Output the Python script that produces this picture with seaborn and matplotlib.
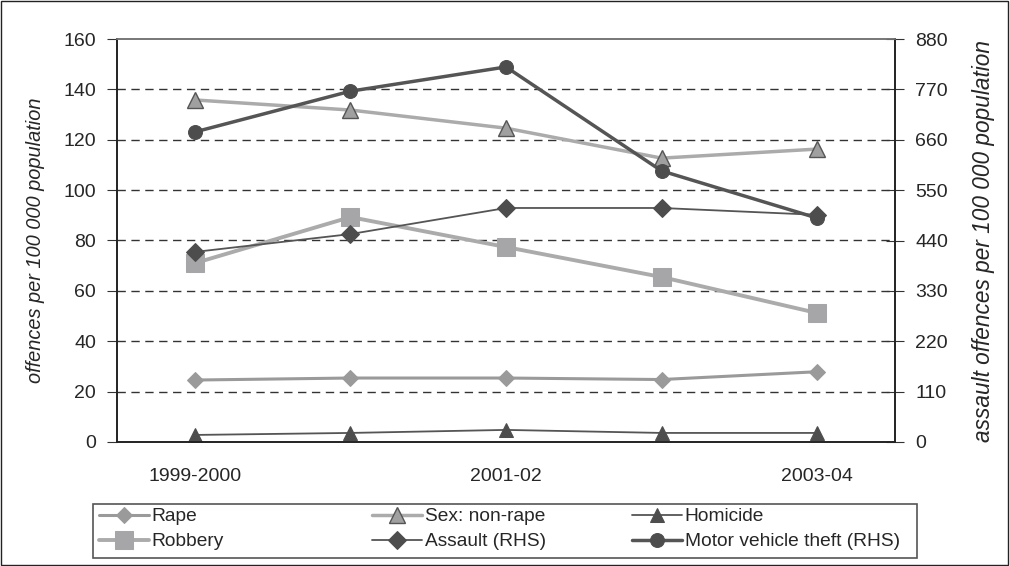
import matplotlib
matplotlib.use("Agg")
import matplotlib.pyplot as plt
import pandas as pd
import seaborn as sns
from matplotlib.patches import Rectangle

years = ["1999-2000", "2000-01", "2001-02", "2002-03", "2003-04"]
tick_labels = ["1999-2000", "", "2001-02", "", "2003-04"]

rape = [24.6, 25.4, 25.4, 24.8, 27.9]
sex_non_rape = [135.8, 131.8, 124.6, 112.7, 116.3]
homicide = [2.8, 3.6, 4.8, 3.6, 3.6]
robbery = [71.0, 89.3, 77.4, 65.5, 51.2]
assault_rhs = [415, 454, 511, 511, 496]
mvt_rhs = [677, 766, 819, 592, 489]

sns.set_style("white")
plt.rcParams["font.family"] = ["Liberation Sans", "DejaVu Sans"]

df = pd.DataFrame({"idx": range(len(years)), "year": years})

fig = plt.figure(figsize=(10.1, 5.66), dpi=100)
ax = fig.add_axes([117 / 1010, 124 / 566, 778 / 1010, 403 / 566])
ax2 = ax.twinx()

# left-hand series
styles_left = [
    ("Rape", rape, dict(color="#9a9a9a", lw=2.2, marker="D", ms=8, mfc="#9a9a9a", mec="#9a9a9a")),
    ("Sex: non-rape", sex_non_rape, dict(color="#ababab", lw=2.5, marker="^", ms=11, mfc="#a0a0a0", mec="#555555", mew=1)),
    ("Homicide", homicide, dict(color="#555555", lw=1.3, marker="^", ms=10, mfc="#4d4d4d", mec="#4d4d4d")),
    ("Robbery", robbery, dict(color="#ababab", lw=2.8, marker="s", ms=13, mfc="#a6a6a8", mec="#a6a6a8")),
]
# right-hand series
styles_right = [
    ("Assault (RHS)", assault_rhs, dict(color="#555555", lw=1.3, marker="D", ms=9, mfc="#4d4d4d", mec="#4d4d4d")),
    ("Motor vehicle theft (RHS)", mvt_rhs, dict(color="#555555", lw=2.5, marker="o", ms=10, mfc="#4d4d4d", mec="#4d4d4d")),
]

handles = {}
for name, vals, st in styles_left:
    d = df.assign(v=vals)
    sns.lineplot(data=d, x="idx", y="v", ax=ax, color=st.pop("color"), linewidth=st.pop("lw"), **st)
    handles[name] = ax.lines[-1]
for name, vals, st in styles_right:
    d = df.assign(v=vals)
    sns.lineplot(data=d, x="idx", y="v", ax=ax2, color=st.pop("color"), linewidth=st.pop("lw"), **st)
    handles[name] = ax2.lines[-1]

ax.set_xlim(-0.5, 4.5)
ax.set_ylim(0, 160)
ax.set_yticks(range(0, 161, 20))
ax2.set_ylim(0, 880)
ax2.set_yticks(range(0, 881, 110))

for y in range(20, 160, 20):
    ax.axhline(y, color="#333333", lw=1, ls=(0, (6, 4)), zorder=0)

ax.set_xticks([i - 0.5 for i in range(6)], minor=False)
ax.set_xticklabels([])
ax.set_xticks(range(5), minor=True)
ax.set_xticklabels(tick_labels, minor=True)
ax.tick_params(axis="x", which="major", direction="out", length=7, color="#333333")
ax.tick_params(axis="x", which="minor", length=0, pad=19, labelsize=14)
ax.tick_params(axis="y", direction="out", length=7, pad=8, labelsize=14, color="#333333")
ax2.tick_params(axis="y", direction="inout", length=13, pad=8, labelsize=14, color="#333333")

ax.set_xlabel("")
ax.set_ylabel("offences per 100 000 population", fontsize=14.4, style="italic", labelpad=13)
ax2.set_ylabel("assault offences per 100 000 population", fontsize=16.3, style="italic", labelpad=17)

for a in (ax, ax2):
    for s in a.spines.values():
        s.set_color("#222222")
        s.set_linewidth(1.2)
ax.spines["top"].set_color("#777777")
ax2.spines["top"].set_color("#777777")

# legend: three columns placed like the original
columns = [("Rape", "Robbery"), ("Sex: non-rape", "Assault (RHS)"), ("Homicide", "Motor vehicle theft (RHS)")]
col_x = [99, 372, 632]
for names, x0 in zip(columns, col_x):
    fig.legend(
        [handles[k] for k in names], list(names),
        loc="upper left", bbox_to_anchor=(x0 / 1010, 1 - 508 / 566),
        frameon=False, fontsize=13.8, handlelength=2.6, handletextpad=0.15,
        borderaxespad=0, borderpad=0, labelspacing=0.4,
    )
fig.patches.append(Rectangle((93 / 1010, 8 / 566), 824 / 1010, 54 / 566, transform=fig.transFigure,
                             fill=False, edgecolor="#555555", lw=1.2))

fig.patches.append(Rectangle((0.001, 0.001), 0.997, 0.997, transform=fig.transFigure,
                             fill=False, edgecolor="#222222", lw=1))

fig.savefig("out.png", dpi=100)
